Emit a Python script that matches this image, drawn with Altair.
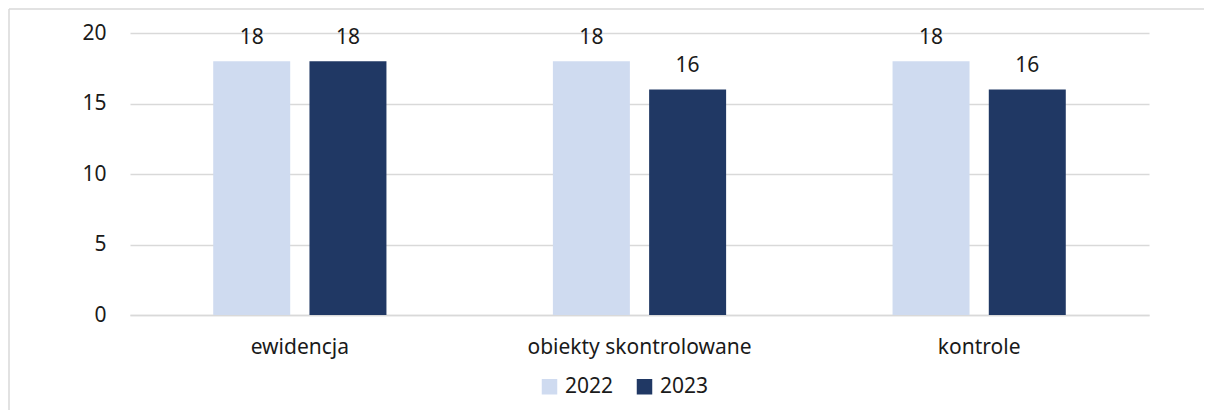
import altair as alt
import pandas as pd

categories = ["ewidencja", "obiekty skontrolowane", "kontrole"]
years = ["2022", "2023"]
v2022 = [18, 18, 18]
v2023 = [18, 16, 16]
colors = ["#CFDBF0", "#203864"]

rows = []
for c, a, b in zip(categories, v2022, v2023):
    rows.append({"kat": c, "rok": "2022", "val": a})
    rows.append({"kat": c, "rok": "2023", "val": b})
df = pd.DataFrame(rows)

W, H = 1019, 282
FONT = "Noto Sans"
FS = 21
TXT = "#1a1a1a"

x = alt.X("kat:N", sort=categories, title=None,
          scale=alt.Scale(paddingInner=0.49, paddingOuter=0.245),
          axis=alt.Axis(labelAngle=0, labelFontSize=FS, labelColor=TXT,
                        labelFont=FONT, labelPadding=21, ticks=False,
                        labelLimit=0,
                        domainColor="#d9d9d9", domainWidth=1.5))
xo = alt.XOffset("rok:N", sort=years,
                 scale=alt.Scale(paddingInner=0.2, paddingOuter=0))
y = alt.Y("val:Q", title=None,
          scale=alt.Scale(domain=[0, 20], nice=False),
          axis=alt.Axis(values=[0, 5, 10, 15, 20], labelFontSize=FS,
                        labelColor=TXT, labelFont=FONT, labelPadding=24,
                        ticks=False, domain=False, gridColor="#d9d9d9",
                        gridWidth=1.5))

base = alt.Chart(df)

bars = base.mark_bar().encode(
    x=x, xOffset=xo, y=y,
    color=alt.Color("rok:N", sort=years,
                    scale=alt.Scale(domain=years, range=colors),
                    legend=alt.Legend(title=None, orient="none", direction="horizontal",
                                      legendX=409, legendY=343, symbolType="square",
                                      symbolSize=240, symbolStrokeWidth=0,
                                      labelFontSize=FS, labelFont=FONT,
                                      labelColor=TXT, columnPadding=20,
                                      symbolOffset=0, labelOffset=5)),
)

labels = base.mark_text(baseline="alphabetic", dy=-17, fontSize=FS, font=FONT,
                        color=TXT).encode(
    x=x, xOffset=xo, y=y, text=alt.Text("val:Q"))

one = pd.DataFrame({"a": [0]})
frame_top = alt.Chart(one).mark_rule(stroke="#d9d9d9", strokeWidth=1.5).encode(
    x=alt.value(-121), x2=alt.value(W + 300), y=alt.value(-24))
frame_left = alt.Chart(one).mark_rule(stroke="#d9d9d9", strokeWidth=1.5).encode(
    x=alt.value(-121), y=alt.value(-24), y2=alt.value(H + 300))

chart = alt.layer(frame_top, frame_left, bars, labels).properties(
    width=W, height=H,
    background="white",
    autosize=alt.AutoSizeParams(type="none"),
    padding={"left": 122, "top": 25, "right": 55, "bottom": 95},
).configure_view(strokeWidth=0, stroke="transparent")

chart.save("out.html", embed_options={"renderer": "svg", "actions": False})
